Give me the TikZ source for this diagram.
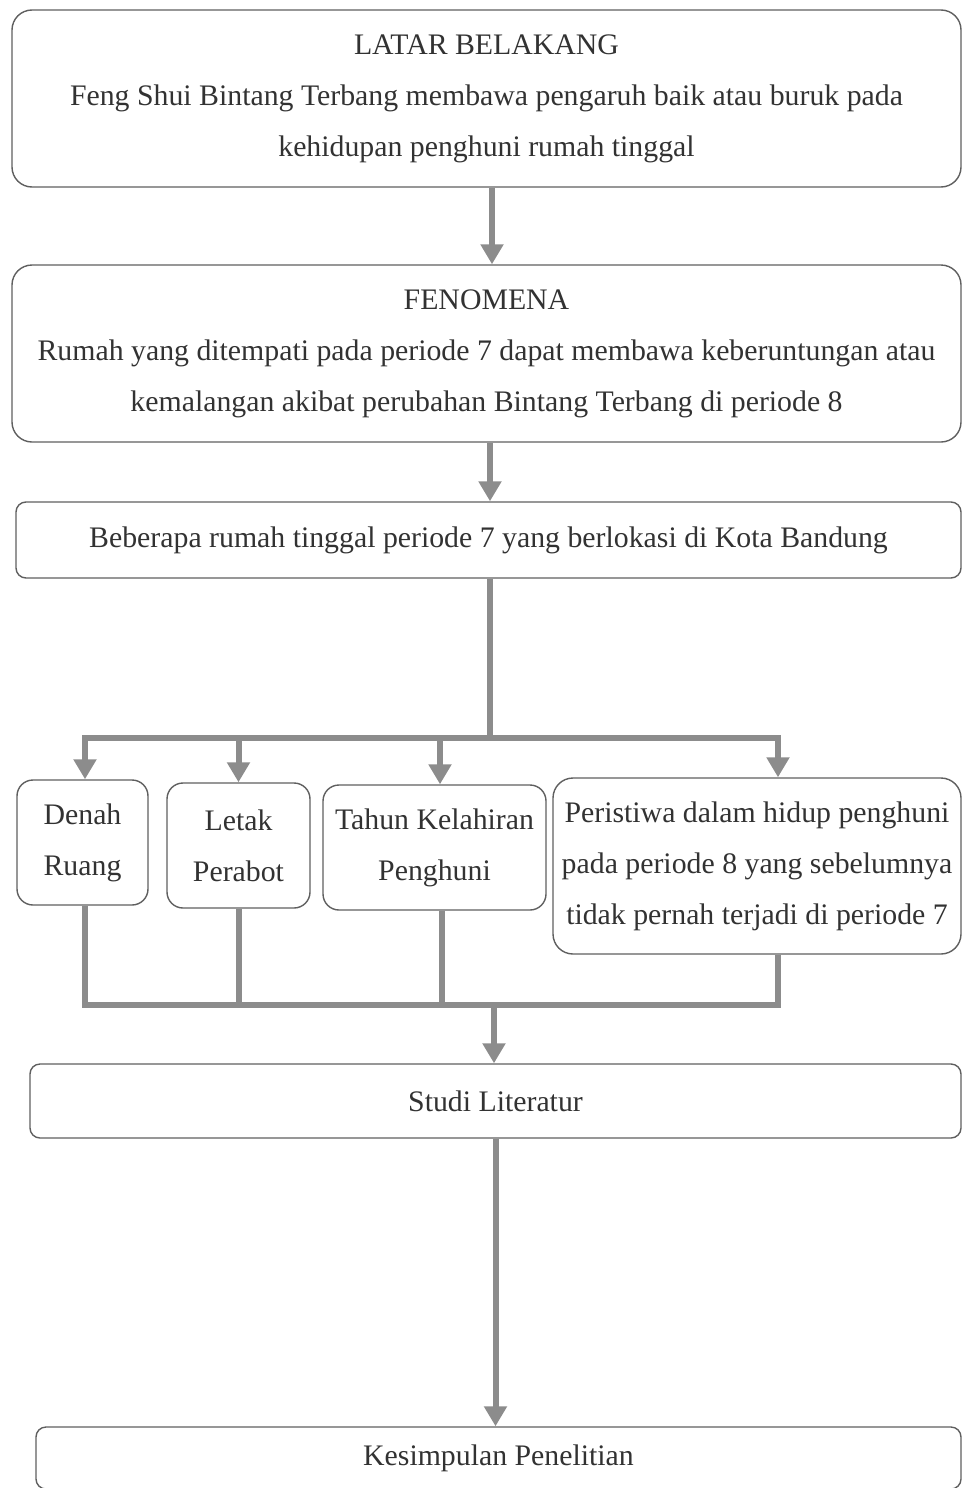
\documentclass[tikz,border=0pt]{standalone}
\usepackage{fontspec}
\setmainfont{Liberation Serif}
\usetikzlibrary{arrows.meta, positioning}
\definecolor{boxgray}{RGB}{95,95,95}
\definecolor{arrgray}{RGB}{140,140,140}
\definecolor{textgray}{RGB}{50,50,50}

\begin{document}
\begin{tikzpicture}[x=0.5pt, y=-0.5pt,
        block/.style={draw=boxgray, line width=0.7pt, rounded corners=10pt, text=textgray, align=center, inner sep=2pt, font=\fontsize{14.9pt}{25.5pt}\selectfont},
        flat/.style={block, rounded corners=5pt},
        small/.style={block, rounded corners=8pt, minimum height=62.5pt},
        line/.style={draw=arrgray, line width=3pt},
        arr/.style={line, -{Triangle[width=11pt, length=10pt]}}
    ]
        \useasboundingbox (0,0) rectangle (962,1488);

        % Top boxes
        \node[block, minimum width=474.5pt, minimum height=88.5pt] (latar) at (486.5,98.5) {LATAR BELAKANG\\Feng Shui Bintang Terbang membawa pengaruh baik atau buruk pada\\kehidupan penghuni rumah tinggal};
        \node[block, minimum width=474.5pt, minimum height=88.5pt] (fenomena) at (486.5,353.5) {FENOMENA\\Rumah yang ditempati pada periode 7 dapat membawa keberuntungan atau\\kemalangan akibat perubahan Bintang Terbang di periode 8};
        \node[flat, minimum width=472.5pt, minimum height=38pt] (lokasi) at (488.5,540) {Beberapa rumah tinggal periode 7 yang berlokasi di Kota Bandung};

        \draw[arr] ([xshift=2.75pt]latar.south) -- ([xshift=2.75pt]fenomena.north);
        \draw[arr] ([xshift=1.75pt]fenomena.south) -- ([xshift=0.75pt]lokasi.north);

        % Aspects
        \node[small, minimum width=65.5pt] (denah) at (82.5,842.5) {Denah\\Ruang};
        \node[small, minimum width=71.5pt] (letak) at (238.5,845.5) {Letak\\Perabot};
        \node[small, minimum width=111.5pt] (tahun) at (434.5,847.5) {Tahun Kelahiran\\Penghuni};
        \node[block, minimum width=204pt, minimum height=88pt] (peristiwa) at (757,866) {Peristiwa dalam hidup penghuni\\pada periode 8 yang sebelumnya\\tidak pernah terjadi di periode 7};

        \coordinate (split) at (490,738);
        \coordinate (merge) at (494,1005);
        \coordinate (din) at ([xshift=1.25pt]denah.north);
        \coordinate (dout) at ([xshift=1.25pt]denah.south);
        \coordinate (tin) at ([xshift=2.75pt]tahun.north);
        \coordinate (tout) at ([xshift=3.75pt]tahun.south);
        \coordinate (pin) at ([xshift=10.5pt]peristiwa.north);
        \coordinate (pout) at ([xshift=10.5pt]peristiwa.south);

        \draw[arr] (lokasi.south -| split) -- (split) -| (din);
        \draw[arr] (split) -| (pin);
        \draw[arr] (split -| letak.north) -- (letak.north);
        \draw[arr] (split -| tin) -- (tin);

        \draw[line] (dout) |- (merge);
        \draw[line] (pout) |- (merge);
        \draw[line] (letak.south) -- (letak.south |- merge);
        \draw[line] (tout) -- (tout |- merge);

        % Bottom boxes
        \node[flat, minimum width=465.5pt, minimum height=37pt] (studi) at (495.5,1101) {Studi Literatur};
        \node[flat, minimum width=462.5pt, minimum height=31pt] (kesimpulan) at (498.5,1458) {Kesimpulan Penelitian};

        \draw[arr] (merge) -- (merge |- studi.north);
        \draw[arr] (studi.south) -- (studi.south |- kesimpulan.north);

    \end{tikzpicture}
\end{document}
